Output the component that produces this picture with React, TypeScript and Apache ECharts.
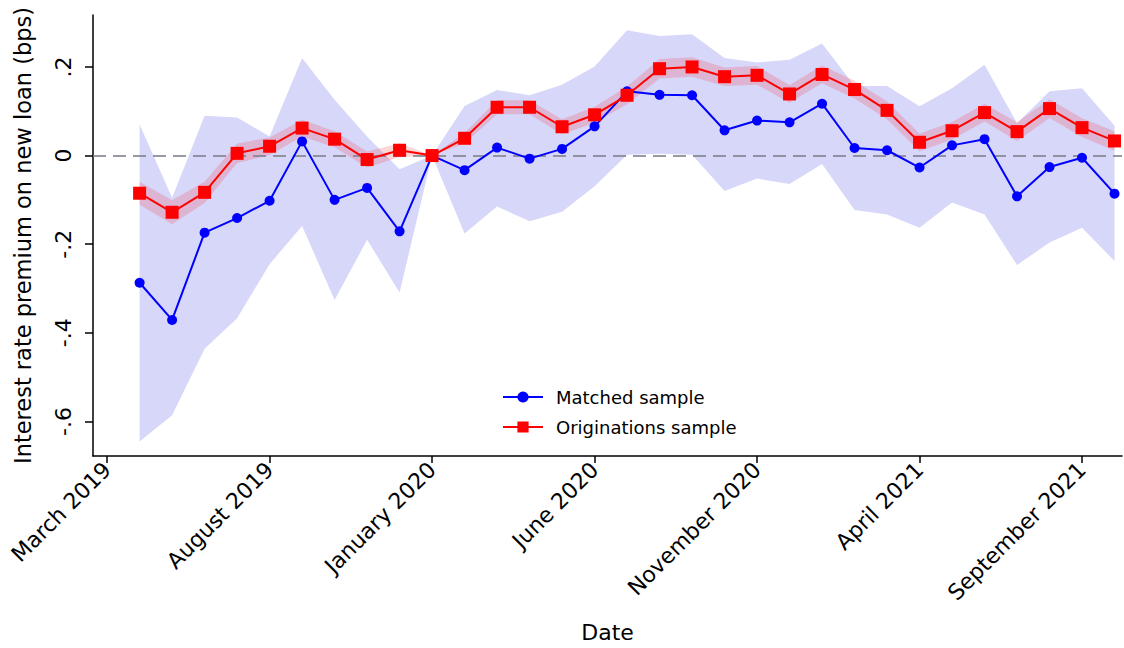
import React, { useEffect, useRef } from "react";
import * as echarts from "echarts";

// month index: March 2019 = 0
const months = [1, 2, 3, 4, 5, 6, 7, 8, 9, 10, 11, 12, 13, 14, 15, 16, 17, 18, 19, 20, 21, 22, 23, 24, 25, 26, 27, 28, 29, 30, 31];

const matched = [-0.287, -0.371, -0.174, -0.141, -0.102, 0.032, -0.1, -0.073, -0.171, 0, -0.033, 0.018, -0.007, 0.015, 0.066, 0.145, 0.137, 0.136, 0.057, 0.079, 0.075, 0.117, 0.017, 0.012, -0.027, 0.023, 0.037, -0.092, -0.026, -0.005, -0.086];
const matchedUpper = [0.07, -0.095, 0.09, 0.086, 0.043, 0.22, 0.126, 0.043, -0.031, 0, 0.112, 0.148, 0.136, 0.16, 0.201, 0.283, 0.27, 0.274, 0.22, 0.21, 0.216, 0.253, 0.157, 0.157, 0.111, 0.152, 0.205, 0.073, 0.145, 0.152, 0.067];
const matchedLower = [-0.645, -0.586, -0.436, -0.367, -0.245, -0.159, -0.326, -0.19, -0.309, 0, -0.176, -0.115, -0.148, -0.127, -0.069, 0.002, 0.004, 0.002, -0.08, -0.052, -0.064, -0.019, -0.123, -0.133, -0.163, -0.106, -0.133, -0.247, -0.196, -0.163, -0.238];

const originations = [-0.085, -0.128, -0.083, 0.005, 0.021, 0.062, 0.037, -0.009, 0.012, 0, 0.039, 0.109, 0.109, 0.065, 0.092, 0.136, 0.196, 0.2, 0.178, 0.181, 0.139, 0.183, 0.149, 0.102, 0.03, 0.056, 0.097, 0.054, 0.106, 0.063, 0.033];
const originationsUpper = [-0.059, -0.101, -0.059, 0.027, 0.041, 0.081, 0.055, 0.009, 0.028, 0, 0.051, 0.125, 0.125, 0.082, 0.11, 0.156, 0.218, 0.222, 0.199, 0.202, 0.159, 0.203, 0.169, 0.122, 0.05, 0.076, 0.117, 0.075, 0.127, 0.084, 0.055];
const originationsLower = [-0.111, -0.155, -0.107, -0.017, 0.001, 0.043, 0.019, -0.027, -0.004, 0, 0.027, 0.093, 0.093, 0.048, 0.074, 0.116, 0.174, 0.178, 0.157, 0.16, 0.119, 0.163, 0.129, 0.082, 0.01, 0.036, 0.077, 0.033, 0.085, 0.042, 0.011];

const xTickValues = [0, 5, 10, 15, 20, 25, 30];
const xTickLabels = ["March 2019", "August 2019", "January 2020", "June 2020", "November 2020", "April 2021", "September 2021"];
const yTickValues = [-0.6, -0.4, -0.2, 0, 0.2];

const FONT = "DejaVu Sans";

function bandSeries(name: string, lower: number[], upper: number[], color: string, z: number) {
  return {
    name,
    type: "custom",
    silent: true,
    z,
    data: months.map((m, i) => [m, lower[i], upper[i]]),
    encode: { x: 0, y: [1, 2] },
    renderItem: (params: any, api: any) => {
      if (params.dataIndex !== 0) return null;
      const pts: number[][] = [];
      for (let i = 0; i < months.length; i++) pts.push(api.coord([months[i], upper[i]]));
      for (let i = months.length - 1; i >= 0; i--) pts.push(api.coord([months[i], lower[i]]));
      return { type: "polygon", shape: { points: pts }, style: { fill: color } };
    },
  };
}

function fmtY(v: number) {
  const r = Math.round(Math.abs(v) * 10);
  if (r === 0) return "0";
  return (v < 0 ? "-" : "") + "." + r;
}

export default function App() {
  const ref = useRef<HTMLDivElement>(null);
  useEffect(() => {
    if (!ref.current) return;
    const chart = echarts.init(ref.current, null, { renderer: "svg" });
    chart.setOption({
      animation: false,
      backgroundColor: "#ffffff",
      textStyle: { fontFamily: FONT },
      grid: { left: 93, right: 2, top: 15, bottom: 191 },
      legend: {
        data: ["Matched sample", "Originations sample"],
        orient: "vertical",
        left: 502,
        top: 388,
        padding: 0,
        itemWidth: 40,
        itemHeight: 14,
        itemGap: 12,
        textStyle: { fontFamily: FONT, fontSize: 18, color: "#000", padding: [0, 0, 0, 8] },
      },
      xAxis: {
        type: "value",
        min: -0.434,
        max: 31.23,
        name: "Date",
        nameLocation: "middle",
        nameGap: 165,
        nameTextStyle: { fontFamily: FONT, fontSize: 22, color: "#000" },
        axisLine: { show: true, onZero: false, lineStyle: { color: "#000", width: 1.5 } },
        axisTick: { show: true, length: 7, customValues: xTickValues, lineStyle: { color: "#000", width: 1.5 } },
        axisLabel: {
          customValues: xTickValues,
          rotate: 45,
          margin: 10,
          fontFamily: FONT,
          fontSize: 22,
          color: "#000",
          formatter: (v: number) => xTickLabels[xTickValues.indexOf(Math.round(v))] ?? "",
        },
        splitLine: { show: false },
      },
      yAxis: {
        type: "value",
        min: -0.678,
        max: 0.3172,
        name: "Interest rate premium on new loan (bps)",
        nameLocation: "middle",
        nameGap: 59,
        nameTextStyle: { fontFamily: FONT, fontSize: 22.5, color: "#000" },
        axisLine: { show: true, onZero: false, lineStyle: { color: "#000", width: 1.5 } },
        axisTick: { show: true, length: 8, customValues: yTickValues, lineStyle: { color: "#000", width: 1.5 } },
        axisLabel: {
          customValues: yTickValues,
          rotate: 90,
          margin: 19,
          fontFamily: FONT,
          fontSize: 22,
          color: "#000",
          formatter: fmtY,
        },
        splitLine: { show: false },
      },
      series: [
        bandSeries("matchedCI", matchedLower, matchedUpper, "#d7d7fa", 1),
        bandSeries("originationsCI", originationsLower, originationsUpper, "rgba(255,0,0,0.16)", 2),
        {
          name: "Matched sample",
          type: "line",
          z: 4,
          data: months.map((m, i) => [m, matched[i]]),
          symbol: "circle",
          symbolSize: 10,
          showAllSymbol: true,
          lineStyle: { color: "#0000ff", width: 2 },
          itemStyle: { color: "#0000ff" },
          markLine: {
            silent: true,
            symbol: "none",
            label: { show: false },
            data: [{ yAxis: 0 }],
            lineStyle: { color: "rgba(128,128,140,0.8)", width: 2, type: [13, 7] },
            z: 3,
          },
        },
        {
          name: "Originations sample",
          type: "line",
          z: 5,
          data: months.map((m, i) => [m, originations[i]]),
          symbol: "rect",
          symbolSize: 13,
          showAllSymbol: true,
          lineStyle: { color: "#ff0000", width: 2 },
          itemStyle: { color: "#ff0000" },
        },
      ],
    });
    return () => chart.dispose();
  }, []);
  return (
    <div
      ref={ref}
      style={{ position: "absolute", left: 0, top: 0, width: 1124, height: 648, background: "#fff" }}
    />
  );
}
